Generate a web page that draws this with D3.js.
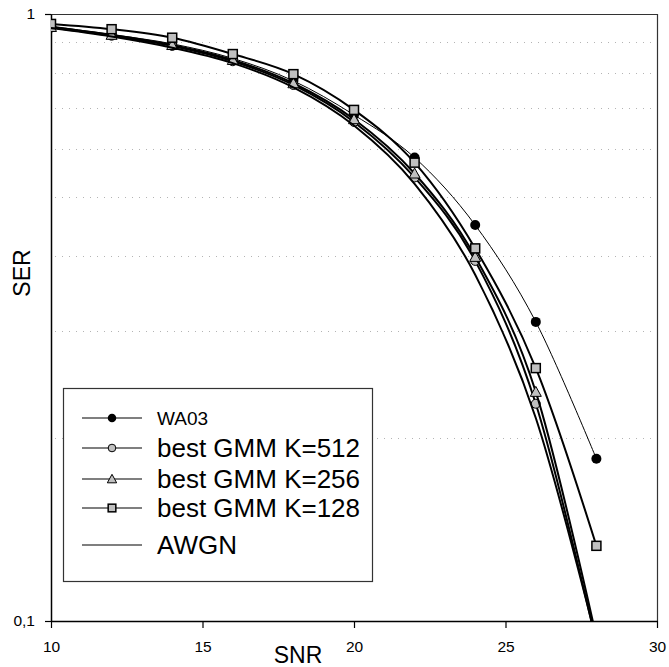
<!DOCTYPE html>
<html>
<head>
<meta charset="utf-8">
<script src="https://cdn.jsdelivr.net/npm/d3@7"></script>
<style>
  body { margin: 0; background: #fff; }
  svg text { font-family: "Liberation Sans", Arial, sans-serif; fill: #000; }
  .tick text { font-size: 15.5px; }
</style>
</head>
<body>
<div id="chart"></div>
<script>
// SNR points (dB)
var snr = [10, 12, 14, 16, 18, 20, 22, 24, 26, 28];

// SER per series
var wa03 = [0.955, 0.925, 0.893, 0.845, 0.776, 0.682, 0.580, 0.449, 0.311, 0.185];
var gmm512 = [0.950, 0.921, 0.886, 0.836, 0.764, 0.664, 0.538, 0.392, 0.228, 0.092];
var gmm256 = [0.952, 0.924, 0.889, 0.840, 0.769, 0.671, 0.546, 0.398, 0.2385, 0.094];
var gmm128 = [0.963, 0.944, 0.914, 0.859, 0.796, 0.695, 0.569, 0.411, 0.261, 0.133];
var awgn = [0.948, 0.918, 0.880, 0.830, 0.757, 0.655, 0.525, 0.372, 0.216, 0.093];

var seriesNames = ["WA03", "best GMM K=512", "best GMM K=256", "best GMM K=128", "AWGN"];
var xTicks = [10, 15, 20, 25, 30];
var yTicks = [0.1, 1];
var yGrid = [0.2, 0.3, 0.4, 0.5, 0.6, 0.7, 0.8, 0.9];

var W = 669, H = 667;
var pLeft = 51, pRight = 657, pTop = 14, pBottom = 621;

var svg = d3.select("#chart").append("svg")
    .attr("width", W).attr("height", H);

var x = d3.scaleLinear().domain([10, 30]).range([pLeft, pRight]);
var y = d3.scaleLog().domain([0.1, 1]).range([pBottom, pTop]);

svg.append("defs").append("clipPath").attr("id", "plotclip")
  .append("rect").attr("x", pLeft).attr("y", pTop)
    .attr("width", pRight - pLeft).attr("height", pBottom - pTop);

// dotted minor gridlines
svg.append("g").selectAll("line")
  .data(yGrid).enter().append("line")
    .attr("x1", pLeft + 4).attr("x2", pRight - 4)
    .attr("y1", function(d) { return Math.round(y(d)) + 0.5; })
    .attr("y2", function(d) { return Math.round(y(d)) + 0.5; })
    .attr("stroke", "#b4b4b4")
    .attr("stroke-width", 1)
    .attr("stroke-dasharray", "1,6");

// plot frame (top / right)
svg.append("path")
  .attr("d", "M" + pLeft + "," + (pTop + 0.5) + "H" + (pRight + 0.5) + "V" + pBottom)
  .attr("fill", "none").attr("stroke", "#333").attr("stroke-width", 1.2);

// axes
var xAxis = d3.axisBottom(x).tickValues(xTicks).tickSize(7).tickSizeOuter(0)
    .tickFormat(d3.format("d"));
var gx = svg.append("g").attr("transform", "translate(0," + pBottom + ")").call(xAxis);
gx.attr("font-size", null).attr("font-family", null);
gx.select(".domain").attr("stroke", "#000").attr("stroke-width", 1.5);
gx.selectAll(".tick line").attr("stroke", "#000").attr("stroke-width", 1.2);
gx.selectAll(".tick text").attr("y", 31).attr("dy", 0);

var yAxis = d3.axisLeft(y).tickValues(yTicks).tickSize(6).tickSizeOuter(0)
    .tickFormat(function(d) { return d === 1 ? "1" : "0,1"; });
var gy = svg.append("g").attr("transform", "translate(" + pLeft + ",0)").call(yAxis);
gy.attr("font-size", null).attr("font-family", null);
gy.select(".domain").attr("stroke", "#000").attr("stroke-width", 1.5);
gy.selectAll(".tick line").attr("stroke", "#000").attr("stroke-width", 1.2);
gy.selectAll(".tick text").attr("x", -16);

// axis titles
svg.append("text").attr("x", 298).attr("y", 663)
  .attr("text-anchor", "middle").style("font-size", "23px").text("SNR");
svg.append("text")
  .attr("transform", "translate(30,273) rotate(-90)")
  .attr("text-anchor", "middle").style("font-size", "23px").text("SER");

// series
var allSeries = [
  {name: seriesNames[0], vals: wa03,   marker: "dot",      width: 1},
  {name: seriesNames[1], vals: gmm512, marker: "circle",   width: 2},
  {name: seriesNames[2], vals: gmm256, marker: "triangle", width: 2},
  {name: seriesNames[3], vals: gmm128, marker: "square",   width: 2},
  {name: seriesNames[4], vals: awgn,   marker: "none",     width: 2}
];

var line = d3.line()
    .x(function(d) { return x(d[0]); })
    .y(function(d) { return y(d[1]); })
    .curve(d3.curveCatmullRom.alpha(0));

function drawMarker(g, kind, cx, cy, k) {
  k = k || 1;
  if (kind === "dot") {
    g.append("circle").attr("cx", cx).attr("cy", cy).attr("r", 5 * k)
      .attr("fill", "#000");
  } else if (kind === "circle") {
    g.append("circle").attr("cx", cx).attr("cy", cy).attr("r", 4.5 * k)
      .attr("fill", "#c0c0c0").attr("stroke", "#000").attr("stroke-width", 1);
  } else if (kind === "triangle") {
    g.append("path")
      .attr("d", "M" + cx + "," + (cy - 5.5 * k) + "L" + (cx + 5.5 * k) + "," + (cy + 4.5 * k) + "L" + (cx - 5.5 * k) + "," + (cy + 4.5 * k) + "Z")
      .attr("fill", "#c0c0c0").attr("stroke", "#000").attr("stroke-width", 1);
  } else if (kind === "square") {
    g.append("rect").attr("x", cx - 4.5 * k).attr("y", cy - 4.5 * k)
      .attr("width", 9 * k).attr("height", 9 * k)
      .attr("fill", "#c0c0c0").attr("stroke", "#000").attr("stroke-width", 1.5);
  }
}

var plot = svg.append("g").attr("clip-path", "url(#plotclip)");

allSeries.forEach(function(s) {
  var pts = snr.map(function(v, i) { return [v, s.vals[i]]; });
  var g = plot.append("g");
  g.append("path").datum(pts)
    .attr("d", line)
    .attr("fill", "none").attr("stroke", "#000")
    .attr("stroke-width", s.width);
  pts.forEach(function(p) {
    if (p[1] >= 0.1) drawMarker(g, s.marker, x(p[0]), y(p[1]));
  });
});

// legend
var lg = svg.append("g");
lg.append("rect").attr("x", 63.5).attr("y", 388.5).attr("width", 309).attr("height", 193)
  .attr("fill", "#fff").attr("stroke", "#333").attr("stroke-width", 1.2);
var rowY = [418, 448, 479, 508, 545];
allSeries.forEach(function(s, i) {
  var ry = rowY[i];
  lg.append("line").attr("x1", 82).attr("x2", 142).attr("y1", ry).attr("y2", ry)
    .attr("stroke", "#000").attr("stroke-width", 1.2);
  drawMarker(lg, s.marker, 112, ry, 0.85);
  lg.append("text").attr("x", 157).attr("y", ry)
    .attr("dy", "0.36em")
    .style("font-size", i === 0 ? "19px" : "26px")
    .text(s.name);
});
</script>
</body>
</html>
